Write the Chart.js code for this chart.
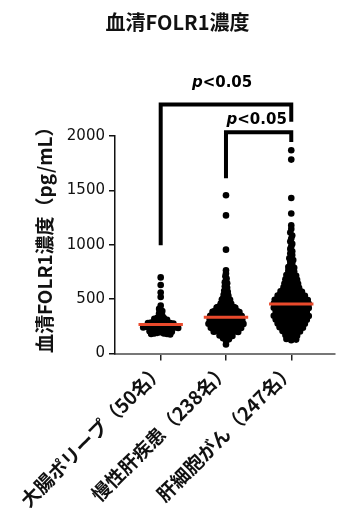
<!DOCTYPE html>
<html>
<head>
<meta charset="utf-8">
<script src="https://cdn.jsdelivr.net/npm/chart.js@4"></script>
<style>
  html, body { margin: 0; padding: 0; background: #fff; }
  #wrap { width: 355px; height: 519px; }
</style>
</head>
<body>
<div id="wrap"><canvas id="c" width="355" height="519"></canvas></div>
<script>
// ---------- data ----------
const chartTitle = '血清FOLR1濃度';
const yAxisTitle = '　血清FOLR1濃度（pg/mL）';
const categories = ['大腸ポリープ（50名）', '慢性肝疾患（238名）', '肝細胞がん（247名）'];
const yTicks = [0, 500, 1000, 1500, 2000];

const polypValues = [
  700, 630, 560, 520, 440, 410, 390, 370, 350, 340, 330, 325, 320, 310, 305, 300, 300, 295, 290, 285,
  280, 280, 275, 270, 270, 265, 260, 260, 255, 250, 250, 245, 240, 240, 235, 230, 230, 225, 220, 215,
  210, 205, 200, 195, 190, 185, 185, 180, 180, 175
];

const chronicLiverValues = [
  1455, 1270, 955,
  766, 735, 710, 690, 672, 655, 645, 630, 618, 605,
  595, 585, 576, 568, 560, 552,
  546, 540, 534, 528, 522, 516, 510, 505, 501,
  497, 493, 490, 486, 482, 478, 475, 471, 467, 463, 460, 456, 452, 450,
  448, 446, 444, 442, 440, 438, 436, 434, 432, 430, 428, 426, 424, 422, 420, 418, 416, 414, 412, 410,
  408, 406, 404, 402, 400,
  399, 398, 396, 395, 394, 392, 391, 390, 388, 387, 386, 384, 383, 382, 380, 379, 378, 376, 375, 374,
  372, 371, 370, 368, 367, 366, 364, 363, 362, 360, 359, 358, 356, 355, 354, 352, 351, 350,
  349, 348, 347, 345, 344, 343, 342, 340, 339, 338, 337, 335, 334, 333, 332, 330, 329, 328, 327, 325,
  324, 323, 322, 320, 319, 318, 317, 315, 314, 313, 312, 310, 309, 308, 307, 305, 304, 303, 302, 300,
  299, 298, 297, 295, 294, 293, 292, 291, 290, 288, 287, 286, 285, 284, 283, 281, 280, 279, 278, 277,
  275, 274, 273, 272, 271, 270, 268, 267, 266, 265, 264, 262, 261, 260, 259, 258, 256, 255, 254, 252, 251,
  249, 247, 246, 244, 243, 241, 240, 238, 236, 235, 233, 232, 230, 228, 227, 225, 224, 222, 220, 219,
  217, 216, 214, 212, 211, 209, 208, 206, 204, 203, 201,
  198, 195, 192, 189, 186, 183, 180, 177, 174, 171, 168, 165, 162, 159, 156, 153,
  148, 140, 130, 118, 83
];

const hccValues = [
  1869, 1783, 1430, 1287,
  1178, 1145, 1112, 1085, 1058, 1030, 1008, 985, 962, 940, 920, 905,
  892, 875, 860, 846, 832, 818, 805, 796, 788, 779, 770, 762, 754,
  746, 740, 734, 727, 721, 715, 708, 702,
  697, 692, 687, 682, 677, 672, 667, 662, 657, 652,
  648, 644, 640, 636, 632, 628, 624, 620, 616, 612, 608, 604, 601,
  598, 595, 592, 589, 586, 583, 580, 577, 574, 571, 568, 565, 562, 559, 556, 553,
  549, 547, 545, 543, 541, 539, 537, 535, 532, 530, 528, 526, 524, 522, 520, 518, 516, 514, 512, 510, 507, 505, 502,
  499, 497, 495, 494, 492, 490, 488, 486, 484, 483, 481, 479, 477, 475, 473, 472, 470, 468, 466, 464,
  462, 461, 459, 457, 455, 453, 451,
  449, 447, 445, 443, 441, 439, 437, 435, 433, 431, 429, 427, 425, 423, 421, 419, 417, 415, 413, 411,
  408, 406, 404, 402,
  399, 397, 395, 393, 391, 389, 387, 385, 383, 381, 379, 377, 375, 373, 371, 369, 367, 365, 363, 361,
  359, 357, 355, 353, 351,
  349, 347, 345, 343, 341, 339, 337, 335, 333, 331, 329, 327, 325, 323, 321, 319, 317, 315, 313, 311,
  308, 306, 304, 302,
  298, 295, 293, 290, 288, 285, 283, 280, 278, 275, 273, 270, 268, 265, 263, 260, 258, 255, 253, 251,
  248, 244, 241, 237, 234, 230, 227, 223, 220, 216, 213, 209, 206, 202,
  197, 192, 186, 181, 175, 170, 164, 159, 153,
  147, 140, 134, 128, 122
];

const groupValues = [polypValues, chronicLiverValues, hccValues];

// significance brackets (in data units)
const comparisons = [
  { from: 1, to: 3, top: 2290, fromEnd: 995, toEnd: 2130, labelX: 1.94, labelY: 2450, label: 'p<0.05' },
  { from: 2, to: 3, top: 2034, fromEnd: 1611, toEnd: 1945, labelX: 2.47, labelY: 2107, label: 'p<0.05' }
];

// ---------- helpers ----------
function median(a) {
  const s = [...a].sort((p, q) => p - q);
  const m = s.length >> 1;
  return s.length % 2 ? s[m] : (s[m - 1] + s[m]) / 2;
}

// deterministic row-based scatter layout (GraphPad-like), offsets in pixels;
// spacing is chosen so the most crowded row just fills the column width
function rowLayout(yPix, rowH, maxSp, maxHalf) {
  const out = new Array(yPix.length).fill(0);
  const rows = new Map();
  yPix.forEach((y, i) => {
    const r = Math.floor(y / rowH);
    if (!rows.has(r)) rows.set(r, []);
    rows.get(r).push(i);
  });
  let maxN = 1;
  rows.forEach(idx => { maxN = Math.max(maxN, idx.length); });
  const sp = maxN > 1 ? Math.min(maxSp, (2 * maxHalf) / (maxN - 1)) : 0;
  rows.forEach(idx => {
    idx.sort((a, b) => yPix[a] - yPix[b]);
    const n = idx.length;
    const pos = [];
    for (let k = 0; k < n; k++) pos.push((k - (n - 1) / 2) * sp);
    const slots = pos.map((p, k) => k).sort((a, b) => Math.abs(pos[a]) - Math.abs(pos[b]) || a - b);
    idx.forEach((pi, k) => { out[pi] = pos[slots[k]]; });
  });
  return out;
}

// ---------- plugins ----------
const bracketPlugin = {
  id: 'brackets',
  afterDatasetsDraw(chart) {
    const { ctx, scales: { x, y } } = chart;
    ctx.save();
    ctx.strokeStyle = '#000';
    ctx.lineWidth = 4;
    ctx.lineJoin = 'miter';
    ctx.lineCap = 'butt';
    comparisons.forEach(c => {
      const xa = x.getPixelForValue(c.from), xb = x.getPixelForValue(c.to);
      const yt = y.getPixelForValue(c.top);
      ctx.beginPath();
      ctx.moveTo(xa, y.getPixelForValue(c.fromEnd));
      ctx.lineTo(xa, yt);
      ctx.lineTo(xb, yt);
      ctx.lineTo(xb, y.getPixelForValue(c.toEnd));
      ctx.stroke();

      const lx = x.getPixelForValue(c.labelX), ly = y.getPixelForValue(c.labelY);
      const first = c.label.slice(0, 1), rest = c.label.slice(1);
      const fItalic = 'italic bold 15px "DejaVu Sans"';
      const fNormal = 'bold 15px "DejaVu Sans"';
      ctx.font = fItalic; const w1 = ctx.measureText(first).width;
      ctx.font = fNormal; const w2 = ctx.measureText(rest).width;
      const x0 = lx - (w1 + w2) / 2;
      ctx.fillStyle = '#000';
      ctx.textBaseline = 'alphabetic';
      ctx.textAlign = 'left';
      ctx.font = fItalic; ctx.fillText(first, x0, ly);
      ctx.font = fNormal; ctx.fillText(rest, x0 + w1, ly);
    });
    ctx.restore();
  }
};

// ---------- chart ----------
const cjk = '"Noto Sans CJK JP", "Noto Sans", sans-serif';
const pointSets = groupValues.map((vals, gi) => ({
  type: 'scatter',
  data: vals.map(v => ({ x: gi + 1, y: v })),
  backgroundColor: '#000',
  borderWidth: 0,
  pointRadius: 3.3,
  pointHoverRadius: 3.3,
  clip: false,
  order: 2
}));
const medianSets = groupValues.map((vals, gi) => {
  const m = median(vals);
  return {
    type: 'line',
    data: [{ x: gi + 1 - 0.34, y: m }, { x: gi + 1 + 0.34, y: m }],
    borderColor: '#e94a2c',
    borderWidth: 3,
    pointRadius: 0,
    fill: false,
    clip: false,
    order: 0
  };
});

const chart = new Chart(document.getElementById('c'), {
  type: 'scatter',
  data: { datasets: [...pointSets, ...medianSets] },
  options: {
    responsive: false,
    animation: false,
    layout: { padding: { left: 20, right: 20, top: 0, bottom: 0 } },
    plugins: {
      legend: { display: false },
      tooltip: { enabled: false },
      title: {
        display: true,
        text: chartTitle,
        color: '#111',
        font: { family: cjk, size: 20, weight: 'bold' },
        padding: { top: 10, bottom: 102 }
      }
    },
    scales: {
      x: {
        type: 'linear',
        min: 0.3,
        max: 3.67,
        afterFit(s) { s.height = 165.5; },
        afterBuildTicks(s) { s.ticks = categories.map((_, i) => ({ value: i + 1 })); },
        border: { display: true, color: '#777', width: 2 },
        grid: { drawOnChartArea: false, drawTicks: true, tickLength: 7, color: '#222', lineWidth: 1.5 },
        ticks: {
          autoSkip: false,
          maxRotation: 45,
          minRotation: 45,
          padding: -2,
          color: '#111',
          font: { family: cjk, size: 19, weight: 'bold' },
          callback: v => categories[Math.round(v) - 1]
        }
      },
      y: {
        min: 0,
        max: 2000,
        afterFit(s) { s.width = 95; },
        afterBuildTicks(s) { s.ticks = yTicks.map(v => ({ value: v })); },
        border: { display: true, color: '#111', width: 1.5 },
        grid: { drawOnChartArea: false, drawTicks: true, tickLength: 6, color: '#111', lineWidth: 1.5 },
        ticks: {
          color: '#111',
          padding: 4,
          font: { family: '"DejaVu Sans", sans-serif', size: 15 },
          callback: v => String(v)
        },
        title: {
          display: true,
          text: yAxisTitle,
          color: '#111',
          font: { family: cjk, size: 19, weight: 'bold' },
          padding: { top: 13.6, bottom: 0 }
        }
      }
    }
  },
  plugins: [bracketPlugin]
});

// lay out the point rows using the library's scales
const ys = chart.scales.y, xs = chart.scales.x;
const pxPerX = xs.getPixelForValue(2) - xs.getPixelForValue(1);
groupValues.forEach((vals, gi) => {
  const offs = rowLayout(vals.map(v => ys.getPixelForValue(v)), 4, 4, 17.5);
  chart.data.datasets[gi].data = vals.map((v, i) => ({ x: gi + 1 + offs[i] / pxPerX, y: v }));
});
chart.update('none');
</script>
</body>
</html>
